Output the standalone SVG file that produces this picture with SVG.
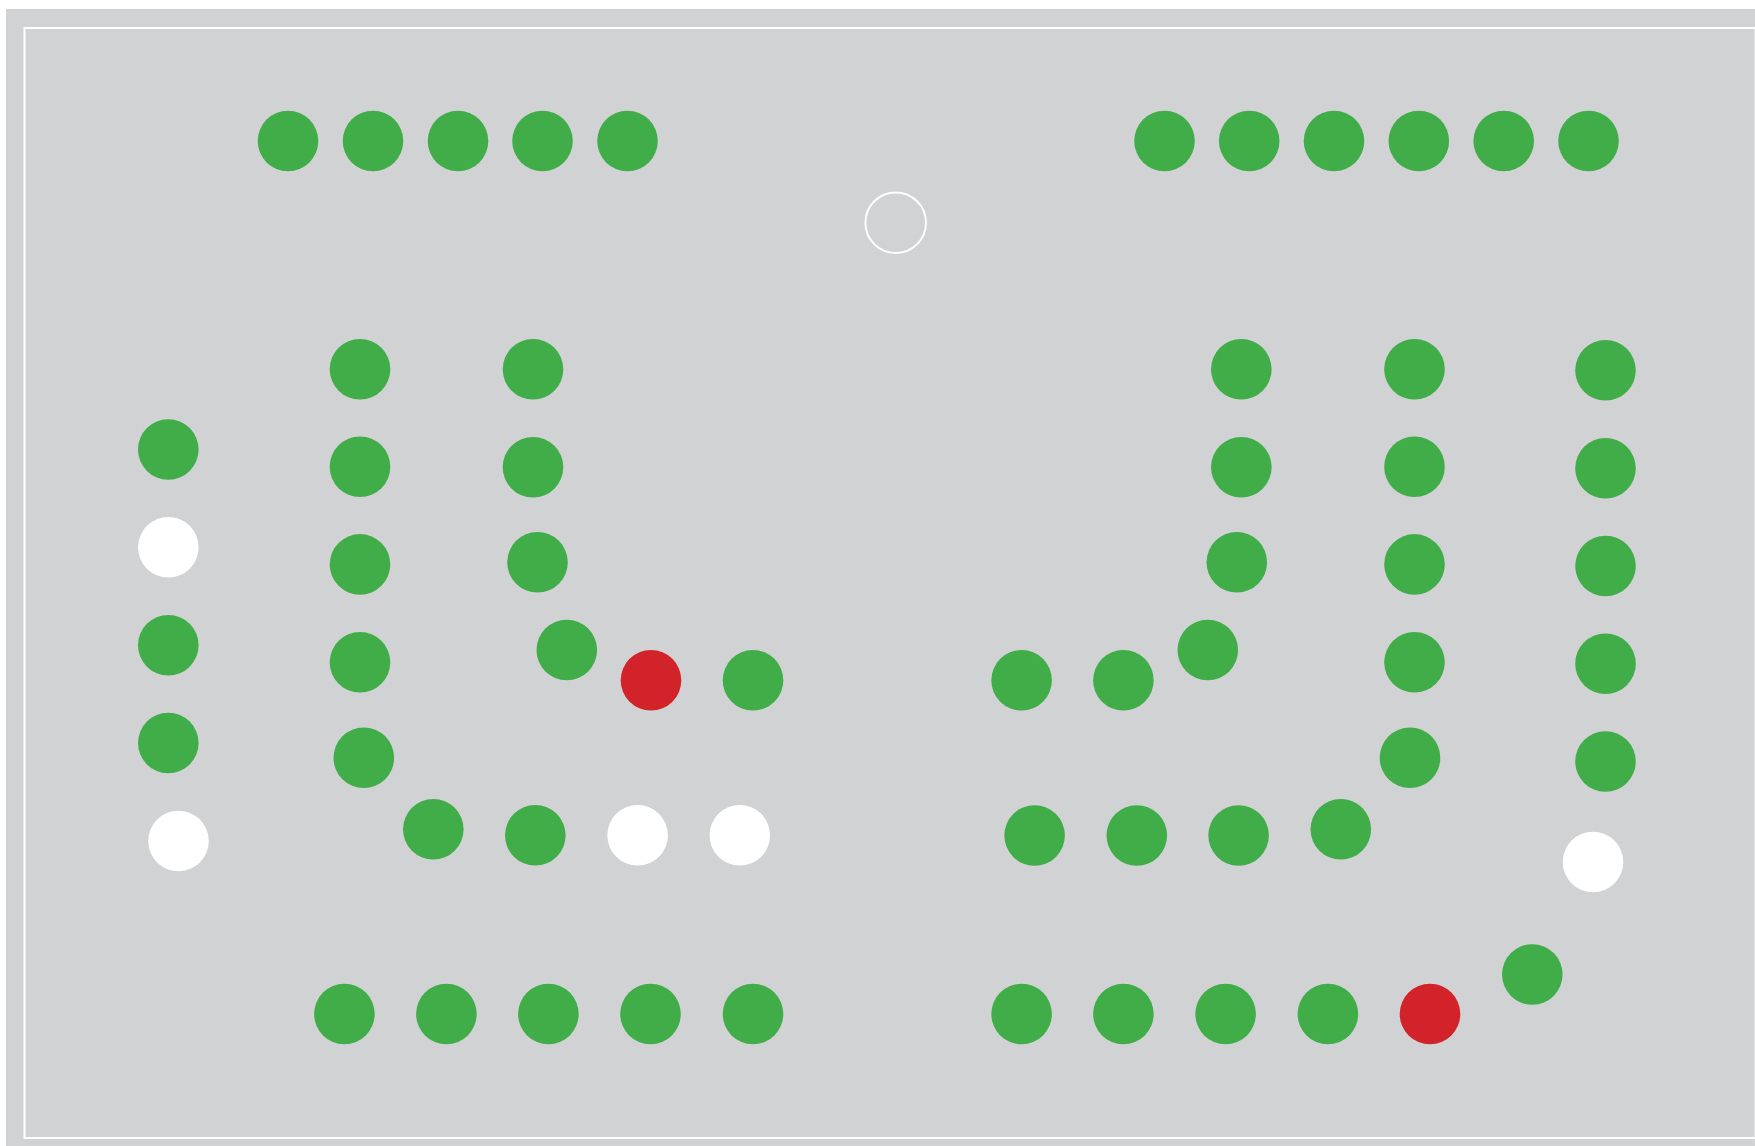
<svg xmlns="http://www.w3.org/2000/svg" width="1755" height="1146" viewBox="0 0 1755 1146">
<style>
.g{fill:#40ad49}
.r{fill:#d2232a}
.w{fill:#ffffff}
.o{fill:none;stroke:#ffffff;stroke-width:2}
</style>
<rect x="0" y="0" width="1755" height="1146" fill="#ffffff"/>
<rect x="6" y="9" width="1749" height="1137" fill="#d1d2d4"/>
<rect x="24.5" y="28" width="1731" height="1110" fill="none" stroke="#ffffff" stroke-width="2"/>
<g id="connectors"/>
<g id="top-left-row">
<circle class="g" cx="288" cy="141" r="30.3"/>
<circle class="g" cx="373" cy="141" r="30.3"/>
<circle class="g" cx="458" cy="141" r="30.3"/>
<circle class="g" cx="542.5" cy="141" r="30.3"/>
<circle class="g" cx="627.5" cy="141" r="30.3"/>
</g>
<g id="top-right-row">
<circle class="g" cx="1164.5" cy="141" r="30.3"/>
<circle class="g" cx="1249.2" cy="141" r="30.3"/>
<circle class="g" cx="1334" cy="141" r="30.3"/>
<circle class="g" cx="1418.8" cy="141" r="30.3"/>
<circle class="g" cx="1503.7" cy="141" r="30.3"/>
<circle class="g" cx="1588.5" cy="141" r="30.3"/>
</g>
<g id="open-node">
<circle class="o" cx="895.7" cy="222.7" r="30.3"/>
</g>
<g id="left-column">
<circle class="g" cx="168.3" cy="449.5" r="30.3"/>
<circle class="w" cx="168.3" cy="547.3" r="30.3"/>
<circle class="g" cx="168.3" cy="645.2" r="30.3"/>
<circle class="g" cx="168.3" cy="743" r="30.3"/>
<circle class="w" cx="178.5" cy="841" r="30.3"/>
</g>
<g id="left-inner-column">
<circle class="g" cx="360" cy="369.2" r="30.3"/>
<circle class="g" cx="360" cy="466.8" r="30.3"/>
<circle class="g" cx="360" cy="564.4" r="30.3"/>
<circle class="g" cx="360" cy="662.3" r="30.3"/>
<circle class="g" cx="363.8" cy="757.8" r="30.3"/>
</g>
<g id="left-curve">
<circle class="g" cx="533" cy="369.3" r="30.3"/>
<circle class="g" cx="533" cy="467.2" r="30.3"/>
<circle class="g" cx="537.5" cy="562.3" r="30.3"/>
<circle class="g" cx="566.8" cy="650" r="30.3"/>
<circle class="r" cx="651" cy="680.3" r="30.3"/>
<circle class="g" cx="753" cy="680.3" r="30.3"/>
</g>
<g id="left-middle-row">
<circle class="g" cx="433.3" cy="829.3" r="30.3"/>
<circle class="g" cx="535.3" cy="835.3" r="30.3"/>
<circle class="w" cx="637.6" cy="835.3" r="30.3"/>
<circle class="w" cx="739.8" cy="835.3" r="30.3"/>
</g>
<g id="bottom-left-row">
<circle class="g" cx="344.4" cy="1014" r="30.3"/>
<circle class="g" cx="446.4" cy="1014" r="30.3"/>
<circle class="g" cx="548.4" cy="1014" r="30.3"/>
<circle class="g" cx="650.5" cy="1014" r="30.3"/>
<circle class="g" cx="753" cy="1014" r="30.3"/>
</g>
<g id="right-curve">
<circle class="g" cx="1021.6" cy="680.3" r="30.3"/>
<circle class="g" cx="1123.4" cy="680.3" r="30.3"/>
<circle class="g" cx="1207.8" cy="650" r="30.3"/>
<circle class="g" cx="1236.8" cy="562.3" r="30.3"/>
<circle class="g" cx="1241.3" cy="467.2" r="30.3"/>
<circle class="g" cx="1241.3" cy="369.3" r="30.3"/>
</g>
<g id="right-inner-column">
<circle class="g" cx="1414.5" cy="369.2" r="30.3"/>
<circle class="g" cx="1414.5" cy="466.8" r="30.3"/>
<circle class="g" cx="1414.5" cy="564.4" r="30.3"/>
<circle class="g" cx="1414.5" cy="662.3" r="30.3"/>
<circle class="g" cx="1410" cy="757.8" r="30.3"/>
</g>
<g id="right-column">
<circle class="g" cx="1605.5" cy="370.3" r="30.3"/>
<circle class="g" cx="1605.5" cy="468.3" r="30.3"/>
<circle class="g" cx="1605.5" cy="566" r="30.3"/>
<circle class="g" cx="1605.5" cy="663.7" r="30.3"/>
<circle class="g" cx="1605.5" cy="761.5" r="30.3"/>
<circle class="w" cx="1593" cy="862" r="30.3"/>
<circle class="g" cx="1532.3" cy="974.5" r="30.3"/>
</g>
<g id="right-middle-row">
<circle class="g" cx="1034.6" cy="835.5" r="30.3"/>
<circle class="g" cx="1136.8" cy="835.5" r="30.3"/>
<circle class="g" cx="1238.6" cy="835.5" r="30.3"/>
<circle class="g" cx="1340.8" cy="829.3" r="30.3"/>
</g>
<g id="bottom-right-row">
<circle class="g" cx="1021.6" cy="1014" r="30.3"/>
<circle class="g" cx="1123.4" cy="1014" r="30.3"/>
<circle class="g" cx="1225.6" cy="1014" r="30.3"/>
<circle class="g" cx="1327.9" cy="1014" r="30.3"/>
<circle class="r" cx="1430" cy="1014" r="30.3"/>
</g>
</svg>
